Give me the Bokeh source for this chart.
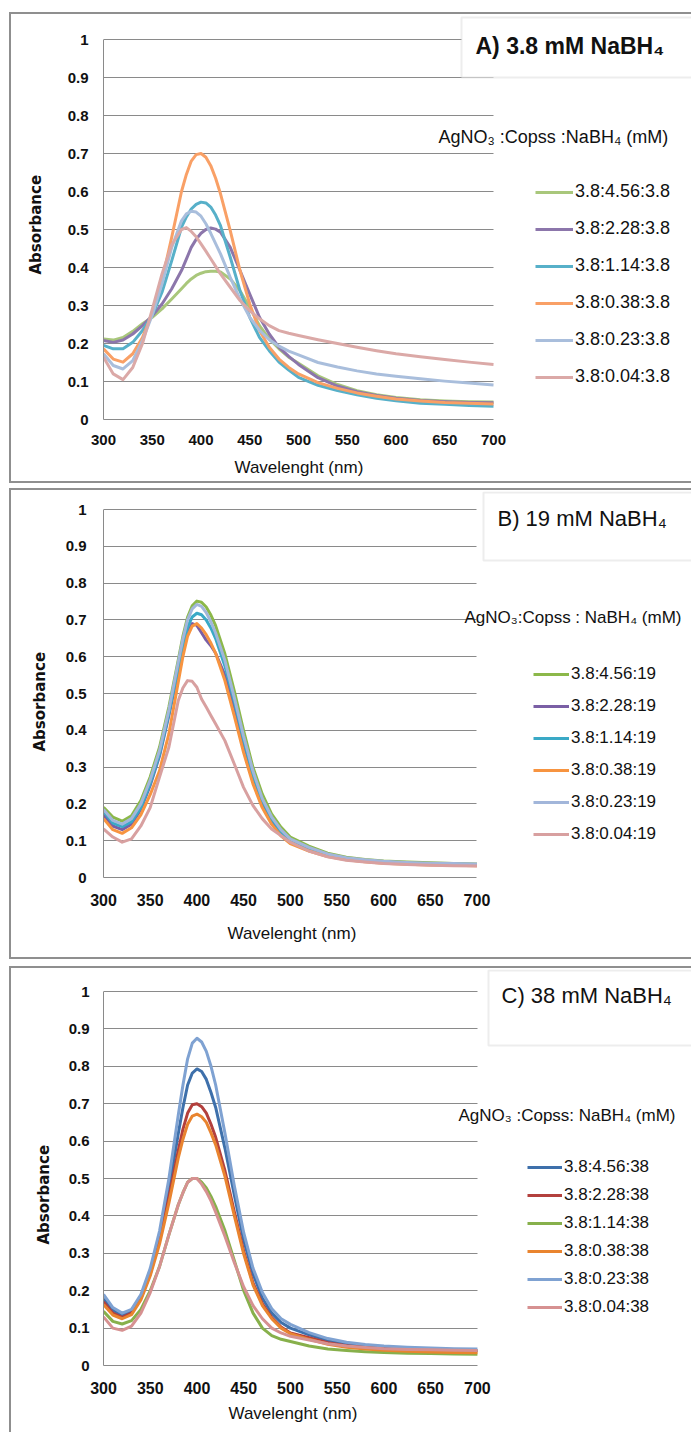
from bokeh.plotting import figure
from bokeh.layouts import column
from bokeh.models import Range1d, FixedTicker, Legend, LegendItem, Label, BoxAnnotation, Title
from bokeh.embed import file_html
from bokeh.resources import INLINE

# ---------------- data ----------------
wavelength = [300, 310, 320, 330, 340, 350, 360, 370, 380, 385, 390, 395, 400, 405, 410, 415, 420,
              430, 440, 450, 460, 470, 480, 490, 500, 520, 540, 560, 580, 600, 625, 650, 675, 700]

x_ticks = [300, 350, 400, 450, 500, 550, 600, 650, 700]
y_ticks = [0, 0.1, 0.2, 0.3, 0.4, 0.5, 0.6, 0.7, 0.8, 0.9, 1]
y_tick_labels = ["0", "0.1", "0.2", "0.3", "0.4", "0.5", "0.6", "0.7", "0.8", "0.9", "1"]
x_title = "Wavelenght (nm)"
y_title = "Absorbance"

# Panel A: 3.8 mM NaBH4
a_labels = ["3.8:4.56:3.8", "3.8:2.28:3.8", "3.8:1.14:3.8", "3.8:0.38:3.8", "3.8:0.23:3.8", "3.8:0.04:3.8"]
a_4_56 = [0.212, 0.209, 0.216, 0.232, 0.252, 0.269, 0.291, 0.317, 0.344, 0.358, 0.370, 0.379, 0.385, 0.389, 0.390, 0.390, 0.388,
          0.370, 0.339, 0.295, 0.247, 0.212, 0.186, 0.164, 0.148, 0.115, 0.092, 0.076, 0.065, 0.058, 0.052, 0.049, 0.047, 0.046]
a_2_28 = [0.208, 0.203, 0.209, 0.225, 0.247, 0.273, 0.304, 0.344, 0.392, 0.422, 0.453, 0.474, 0.490, 0.500, 0.504, 0.501, 0.493,
          0.453, 0.392, 0.330, 0.269, 0.225, 0.190, 0.166, 0.145, 0.110, 0.088, 0.073, 0.063, 0.056, 0.050, 0.047, 0.045, 0.044]
a_1_14 = [0.195, 0.186, 0.186, 0.203, 0.234, 0.274, 0.335, 0.418, 0.506, 0.533, 0.554, 0.566, 0.572, 0.570, 0.559, 0.538, 0.510,
          0.427, 0.339, 0.269, 0.216, 0.181, 0.151, 0.130, 0.111, 0.090, 0.076, 0.065, 0.056, 0.049, 0.043, 0.040, 0.037, 0.035]
a_0_38 = [0.186, 0.159, 0.151, 0.173, 0.216, 0.278, 0.366, 0.480, 0.600, 0.645, 0.680, 0.697, 0.700, 0.690, 0.668, 0.635, 0.594,
          0.497, 0.392, 0.304, 0.234, 0.190, 0.159, 0.137, 0.120, 0.097, 0.082, 0.070, 0.061, 0.054, 0.049, 0.045, 0.043, 0.041]
a_0_23 = [0.173, 0.142, 0.133, 0.155, 0.208, 0.275, 0.357, 0.453, 0.523, 0.541, 0.548, 0.546, 0.535, 0.515, 0.490, 0.463, 0.436,
          0.374, 0.317, 0.269, 0.235, 0.210, 0.193, 0.180, 0.170, 0.150, 0.138, 0.128, 0.120, 0.114, 0.107, 0.101, 0.096, 0.091]
a_0_04 = [0.164, 0.120, 0.105, 0.137, 0.200, 0.290, 0.383, 0.460, 0.500, 0.505, 0.495, 0.481, 0.462, 0.443, 0.423, 0.403, 0.383,
          0.348, 0.313, 0.286, 0.265, 0.247, 0.234, 0.227, 0.221, 0.210, 0.200, 0.190, 0.181, 0.173, 0.165, 0.158, 0.151, 0.145]

# Panel B: 19 mM NaBH4
b_labels = ["3.8:4.56:19", "3.8:2.28:19", "3.8:1.14:19", "3.8:0.38:19", "3.8:0.23:19", "3.8:0.04:19"]
b_4_56 = [0.191, 0.164, 0.153, 0.168, 0.209, 0.273, 0.354, 0.463, 0.590, 0.655, 0.707, 0.738, 0.751, 0.748, 0.735, 0.713, 0.685,
          0.608, 0.508, 0.400, 0.300, 0.227, 0.173, 0.137, 0.110, 0.085, 0.066, 0.055, 0.049, 0.045, 0.042, 0.040, 0.038, 0.037]
b_2_28 = [0.170, 0.140, 0.130, 0.145, 0.185, 0.250, 0.330, 0.440, 0.560, 0.620, 0.665, 0.690, 0.685, 0.665, 0.645, 0.630, 0.610,
          0.550, 0.465, 0.365, 0.275, 0.205, 0.155, 0.120, 0.097, 0.075, 0.059, 0.050, 0.045, 0.041, 0.038, 0.036, 0.035, 0.034]
b_1_14 = [0.180, 0.148, 0.138, 0.152, 0.190, 0.255, 0.335, 0.445, 0.570, 0.630, 0.680, 0.708, 0.718, 0.714, 0.700, 0.678, 0.650,
          0.575, 0.480, 0.375, 0.280, 0.210, 0.160, 0.125, 0.100, 0.078, 0.061, 0.051, 0.046, 0.042, 0.039, 0.037, 0.036, 0.035]
b_0_38 = [0.160, 0.130, 0.120, 0.135, 0.170, 0.225, 0.290, 0.390, 0.530, 0.600, 0.655, 0.683, 0.690, 0.678, 0.660, 0.637, 0.610,
          0.535, 0.440, 0.340, 0.255, 0.190, 0.145, 0.113, 0.092, 0.072, 0.057, 0.048, 0.043, 0.039, 0.036, 0.034, 0.033, 0.032]
b_0_23 = [0.185, 0.155, 0.145, 0.160, 0.200, 0.265, 0.345, 0.455, 0.585, 0.648, 0.700, 0.730, 0.742, 0.737, 0.720, 0.695, 0.665,
          0.590, 0.490, 0.385, 0.290, 0.215, 0.165, 0.130, 0.105, 0.082, 0.064, 0.054, 0.048, 0.044, 0.041, 0.039, 0.038, 0.037]
b_0_04 = [0.132, 0.110, 0.096, 0.105, 0.140, 0.190, 0.273, 0.354, 0.480, 0.515, 0.535, 0.533, 0.517, 0.485, 0.463, 0.440, 0.418,
          0.372, 0.309, 0.245, 0.196, 0.160, 0.132, 0.114, 0.096, 0.072, 0.056, 0.047, 0.042, 0.038, 0.035, 0.033, 0.032, 0.031]

# Panel C: 38 mM NaBH4
c_labels = ["3.8:4.56:38", "3.8:2.28:38", "3.8:1.14:38", "3.8:0.38:38", "3.8:0.23:38", "3.8:0.04:38"]
c_4_56 = [0.178, 0.148, 0.134, 0.145, 0.185, 0.250, 0.345, 0.470, 0.620, 0.690, 0.750, 0.782, 0.793, 0.786, 0.765, 0.730, 0.690,
          0.580, 0.455, 0.335, 0.245, 0.180, 0.140, 0.115, 0.100, 0.082, 0.067, 0.058, 0.052, 0.048, 0.045, 0.043, 0.041, 0.040]
c_2_28 = [0.170, 0.140, 0.129, 0.140, 0.180, 0.245, 0.335, 0.450, 0.575, 0.632, 0.675, 0.697, 0.700, 0.692, 0.675, 0.645, 0.610,
          0.520, 0.410, 0.305, 0.220, 0.165, 0.128, 0.103, 0.087, 0.074, 0.061, 0.053, 0.048, 0.045, 0.042, 0.040, 0.039, 0.038]
c_1_14 = [0.145, 0.118, 0.111, 0.120, 0.150, 0.200, 0.265, 0.350, 0.430, 0.462, 0.490, 0.500, 0.500, 0.490, 0.475, 0.452, 0.425,
          0.360, 0.280, 0.200, 0.140, 0.100, 0.080, 0.070, 0.064, 0.052, 0.044, 0.040, 0.037, 0.035, 0.033, 0.032, 0.031, 0.030]
c_0_38 = [0.163, 0.135, 0.125, 0.136, 0.175, 0.240, 0.325, 0.435, 0.555, 0.605, 0.645, 0.667, 0.672, 0.665, 0.650, 0.622, 0.590,
          0.505, 0.400, 0.298, 0.215, 0.160, 0.125, 0.100, 0.085, 0.070, 0.057, 0.049, 0.044, 0.041, 0.038, 0.036, 0.035, 0.034]
c_0_23 = [0.190, 0.155, 0.140, 0.150, 0.190, 0.260, 0.360, 0.500, 0.670, 0.750, 0.820, 0.862, 0.875, 0.865, 0.840, 0.800, 0.750,
          0.620, 0.480, 0.355, 0.260, 0.195, 0.152, 0.125, 0.110, 0.088, 0.072, 0.062, 0.056, 0.052, 0.049, 0.047, 0.045, 0.044]
c_0_04 = [0.130, 0.100, 0.094, 0.105, 0.140, 0.195, 0.265, 0.350, 0.430, 0.462, 0.490, 0.500, 0.500, 0.485, 0.465, 0.440, 0.410,
          0.345, 0.275, 0.210, 0.160, 0.125, 0.100, 0.087, 0.078, 0.068, 0.058, 0.052, 0.048, 0.045, 0.043, 0.042, 0.041, 0.040]

a_colors = ["#a9c77b", "#8c76ab", "#57b0c9", "#f9a066", "#a9bedc", "#dba9a7"]
b_colors = ["#8cb84a", "#7a5fa5", "#3aa9c6", "#f79440", "#a2b6da", "#d8a0a0"]
c_colors = ["#3e70ab", "#b3403d", "#87b04b", "#e9842f", "#7fa2d2", "#d69191"]

GRID = "#8a8a8a"
BORDER = "#8f8f8f"
SANS = "Liberation Sans"
W = 691


def panel(series, labels, colors, page_top, height, plot_box, frame_top,
          title, title_bold, title_size, title_pos,
          leg_title, leg_title_size, leg_title_pos, leg_x, leg_first, leg_step, glyph_w, leg_size,
          box_outer, box_title, xtick_size, ytick_size, xstand, ystand,
          xlab_offset, xlab_standoff, ylab_offset, ylab_standoff):
    fl, pt, pr, fb = plot_box  # page coords: left, y=1 line, x=700 line, bottom
    x_end = 300 + (W - fl) * 400.0 / (pr - fl)
    y_end = 1 + (pt - frame_top) / float(fb - pt)
    p = figure(width=W, height=height, output_backend="svg", toolbar_location=None,
               x_range=Range1d(300, x_end), y_range=Range1d(0, y_end),
               min_border_left=fl, min_border_right=0,
               min_border_top=frame_top - page_top, min_border_bottom=page_top + height - fb)
    p.background_fill_color = "white"
    p.border_fill_color = None
    p.outline_line_color = None

    # outer panel frame drawn as CSS background lines on the figure element
    ol, ot, ob = box_outer
    t = ot - page_top
    b = ob - page_top
    g = "linear-gradient(%s, %s)" % (BORDER, BORDER)
    p.styles = {
        "background-color": "white",
        "background-image": ", ".join([g, g, g]),
        "background-size": "%dpx 2px, 2px %dpx, %dpx 2px" % (W - ol, b - t + 2, W - ol),
        "background-position": "%dpx %dpx, %dpx %dpx, %dpx %dpx" % (ol, t - 1, ol - 1, t - 1, ol, b - 1),
        "background-repeat": "no-repeat",
    }

    renderers = []
    for vals, col in zip(series, colors):
        r = p.line(wavelength, vals, line_width=3, line_color=col, line_join="round")
        renderers.append(r)

    p.xgrid.grid_line_color = None
    yg = p.ygrid[0]
    yg.grid_line_color = GRID
    yg.grid_line_width = 1
    yg.ticker = FixedTicker(ticks=y_ticks)
    if "cross_bounds" in yg.properties():
        yg.cross_bounds = (300, 700)

    xa = p.xaxis[0]
    xa.ticker = FixedTicker(ticks=x_ticks)
    xa.bounds = (300, 700)
    ya = p.yaxis[0]
    ya.ticker = FixedTicker(ticks=y_ticks)
    ya.bounds = (0, 1)
    ya.major_label_overrides = {tk: s for tk, s in zip(y_ticks, y_tick_labels)}
    for ax in (xa, ya):
        ax.axis_line_color = GRID
        ax.axis_line_width = 1
        ax.major_tick_line_color = None
        ax.minor_tick_line_color = None
        ax.major_tick_out = 0
        ax.major_tick_in = 0
        ax.major_label_text_font = SANS
        ax.major_label_text_font_style = "bold"
        ax.major_label_text_color = "#111111"
    xa.major_label_text_font_size = xtick_size
    ya.major_label_text_font_size = ytick_size
    xa.major_label_standoff = xstand
    ya.major_label_standoff = ystand

    # axis titles (placed in the side panels next to the axes)
    p.add_layout(Title(text=x_title, align="left", offset=xlab_offset, vertical_align="middle",
                       standoff=xlab_standoff, text_font=SANS, text_font_size="17px",
                       text_font_style="normal", text_color="#111111"), "below")
    p.add_layout(Title(text=y_title, align="left", offset=ylab_offset, vertical_align="middle",
                       standoff=ylab_standoff, text_font="DejaVu Sans", text_font_size="15px",
                       text_font_style="bold", text_color="#111111"), "left")

    def sx(x):
        return x - fl

    def sy(y):
        return fb - y

    # title box (white, drawn over the grid)
    tl, tt, tb = box_title
    p.add_layout(BoxAnnotation(left=sx(tl), right=sx(W + 10), top=sy(tt), bottom=sy(tb),
                               left_units="screen", right_units="screen",
                               top_units="screen", bottom_units="screen",
                               fill_color="white", fill_alpha=1, line_color="#c4c4c4", line_width=2))
    p.add_layout(Label(x=sx(title_pos[0]), y=sy(title_pos[1]), x_units="screen", y_units="screen",
                       text=title, text_font=SANS, text_font_size=title_size,
                       text_font_style="bold" if title_bold else "normal",
                       text_baseline="middle", text_align="left", text_color="#111111"))
    p.add_layout(Label(x=sx(leg_title_pos[0]), y=sy(leg_title_pos[1]), x_units="screen", y_units="screen",
                       text=leg_title, text_font=SANS, text_font_size=leg_title_size,
                       text_baseline="middle", text_align="left", text_color="#111111"))

    n = len(labels)
    item_h = 20
    spacing = leg_step - item_h
    H = n * item_h + (n - 1) * spacing
    top_edge = leg_first - item_h / 2
    legend = Legend(items=[LegendItem(label=l, renderers=[r]) for l, r in zip(labels, renderers)],
                    location=(sx(leg_x), fb - top_edge - H),
                    orientation="vertical", glyph_width=glyph_w, glyph_height=item_h,
                    label_height=item_h, label_standoff=2, spacing=spacing,
                    padding=0, margin=0, border_line_color=None, background_fill_alpha=0,
                    label_text_font=SANS, label_text_font_size=leg_size, label_text_color="#111111")
    p.add_layout(legend)
    return p


pA = panel([a_4_56, a_2_28, a_1_14, a_0_38, a_0_23, a_0_04], a_labels, a_colors,
           page_top=0, height=487, plot_box=(103, 39, 493, 419), frame_top=15,
           title="A) 3.8 mM NaBH\u2084", title_bold=True, title_size="23px", title_pos=(475, 45),
           leg_title="AgNO\u2083 :Copss :NaBH\u2084 (mM)", leg_title_size="18px", leg_title_pos=(438, 136),
           leg_x=535, leg_first=197, leg_step=36, glyph_w=38, leg_size="18px",
           box_outer=(10, 13, 482), box_title=(461, 17, 77),
           xtick_size="15px", ytick_size="15px", xstand=15, ystand=15,
           xlab_offset=131, xlab_standoff=18, ylab_offset=145, ylab_standoff=38)

pB = panel([b_4_56, b_2_28, b_1_14, b_0_38, b_0_23, b_0_04], b_labels, b_colors,
           page_top=487, height=475, plot_box=(99, 509, 475, 877), frame_top=491,
           title="B) 19 mM NaBH\u2084", title_bold=False, title_size="22px", title_pos=(493, 518),
           leg_title="AgNO\u2083:Copss : NaBH\u2084 (mM)", leg_title_size="17px", leg_title_pos=(460, 617),
           leg_x=529, leg_first=674, leg_step=32, glyph_w=36, leg_size="17px",
           box_outer=(10, 489, 958), box_title=(479, 492, 560),
           xtick_size="16px", ytick_size="15px", xstand=16, ystand=17,
           xlab_offset=124, xlab_standoff=29, ylab_offset=126, ylab_standoff=26)

pC = panel([c_4_56, c_2_28, c_1_14, c_0_38, c_0_23, c_0_04], c_labels, c_colors,
           page_top=962, height=470, plot_box=(95, 991, 474, 1365), frame_top=969,
           title="C) 38 mM NaBH\u2084", title_bold=False, title_size="22px", title_pos=(493, 995),
           leg_title="AgNO\u2083 :Copss: NaBH\u2084 (mM)", leg_title_size="17px", leg_title_pos=(450, 1115),
           leg_x=519, leg_first=1167, leg_step=28, glyph_w=35, leg_size="17px",
           box_outer=(10, 967, 1445), box_title=(480, 970, 1045),
           xtick_size="16px", ytick_size="15px", xstand=16, ystand=14,
           xlab_offset=125, xlab_standoff=13, ylab_offset=121, ylab_standoff=24)

layout = column(pA, pB, pC, spacing=0)
open("out.html", "w").write(file_html(layout, INLINE))
